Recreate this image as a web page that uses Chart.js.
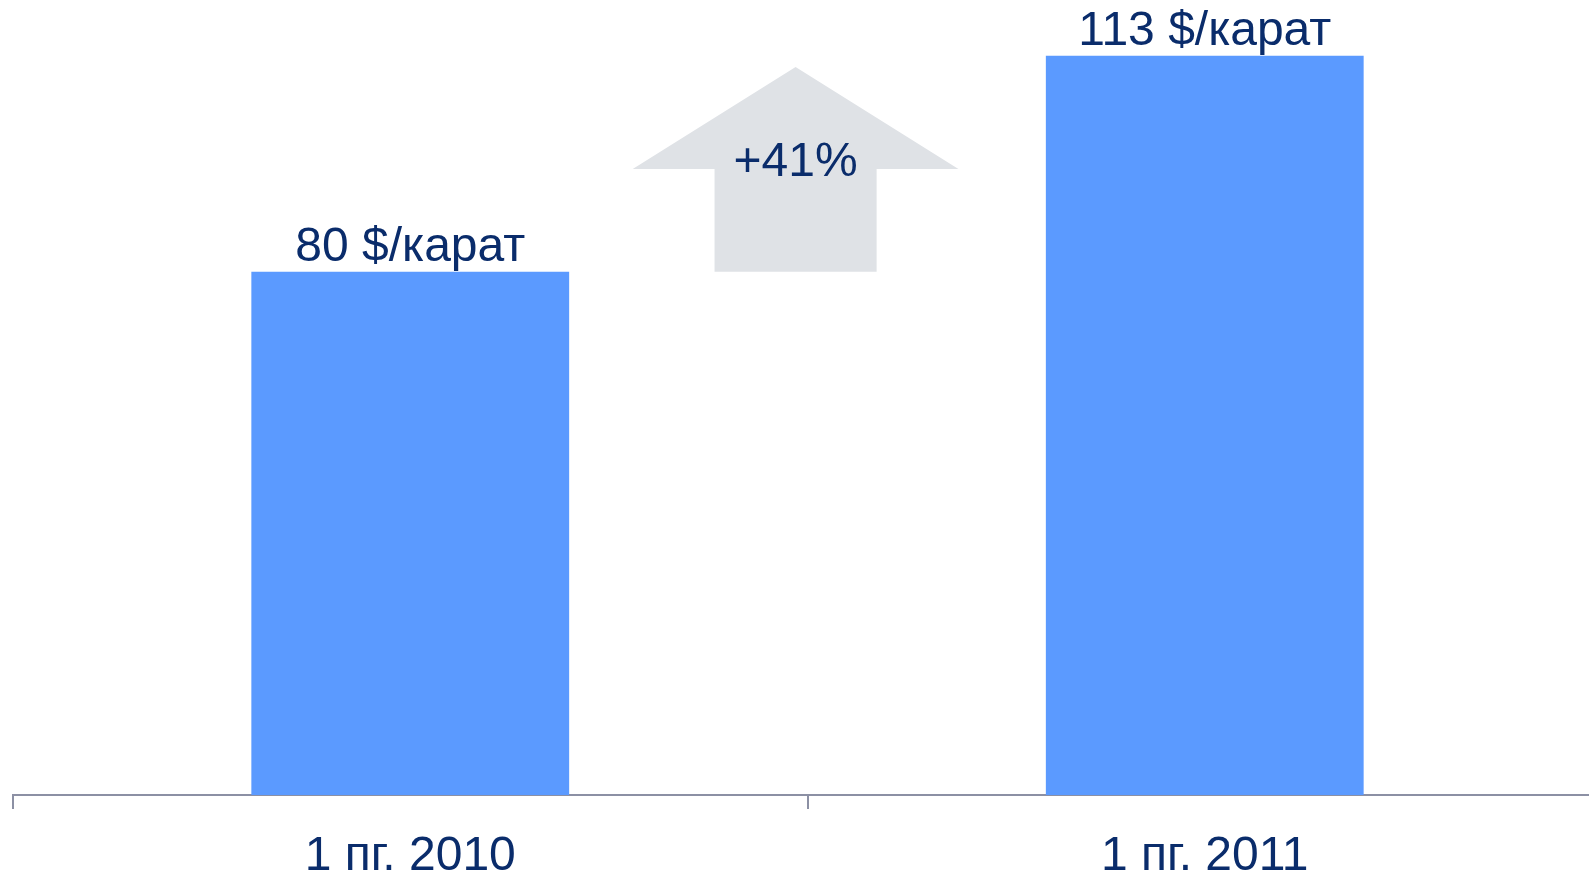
<!DOCTYPE html>
<html>
<head>
<meta charset="utf-8">
<script src="https://cdn.jsdelivr.net/npm/chart.js@4"></script>
<style>
  html, body { margin: 0; padding: 0; background: #fff; overflow: hidden; }
  #wrap { width: 1602px; height: 874px; }
</style>
</head>
<body>
<div id="wrap"><canvas id="grafico"></canvas></div>
<script>
// dados do gráfico
var categorias = ['1 пг. 2010', '1 пг. 2011'];
var valores = [80, 113];
var unidade = '$/карат';
var eixoMax = 120;

var corTexto = '#0a2c6b';
var fonte = "'Liberation Sans', Arial, sans-serif";

// seta de crescimento entre as barras
var setaPlugin = {
  id: 'seta',
  beforeDatasetsDraw: function (chart) {
    var ctx = chart.ctx;
    var x = chart.scales.x, y = chart.scales.y;
    var cx = x.getPixelForValue(0.485);
    var larg = x.getPixelForValue(1) - x.getPixelForValue(0);
    var base = y.getPixelForValue(valores[0]);
    var asa = y.getPixelForValue(95.7);
    var ponta = y.getPixelForValue(111.3);
    var meioHaste = larg * 0.102, meioAsa = larg * 0.205;
    ctx.save();
    ctx.fillStyle = '#dfe2e6';
    ctx.beginPath();
    ctx.moveTo(cx, ponta);
    ctx.lineTo(cx + meioAsa, asa);
    ctx.lineTo(cx + meioHaste, asa);
    ctx.lineTo(cx + meioHaste, base);
    ctx.lineTo(cx - meioHaste, base);
    ctx.lineTo(cx - meioHaste, asa);
    ctx.lineTo(cx - meioAsa, asa);
    ctx.closePath();
    ctx.fill();
    var cresc = Math.round((valores[1] / valores[0] - 1) * 100);
    ctx.fillStyle = corTexto;
    ctx.font = '48px ' + fonte;
    ctx.textAlign = 'center';
    ctx.textBaseline = 'alphabetic';
    ctx.fillText('+' + cresc + '%', cx, asa + 7);
    ctx.restore();
  },
  afterDatasetsDraw: function (chart) {
    var ctx = chart.ctx;
    var meta = chart.getDatasetMeta(0);
    ctx.save();
    ctx.fillStyle = corTexto;
    ctx.font = '48px ' + fonte;
    ctx.textAlign = 'center';
    ctx.textBaseline = 'alphabetic';
    meta.data.forEach(function (barra, i) {
      ctx.fillText(valores[i] + ' ' + unidade, barra.x, barra.y - 11);
    });
    ctx.restore();
  }
};

var ctx = document.getElementById('grafico').getContext('2d');
var myChart = new Chart(ctx, {
  type: 'bar',
  data: {
    labels: categorias,
    datasets: [
      {
        data: valores,
        backgroundColor: '#5b9aff',
        borderWidth: 0,
        categoryPercentage: 0.4,
        barPercentage: 1.0,
      },
    ],
  },
  options: {
    responsive: true,
    maintainAspectRatio: false,
    animation: false,
    layout: { padding: { top: 10, left: 13, right: 0, bottom: 0 } },
    plugins: { legend: { display: false }, tooltip: { enabled: false } },
    scales: {
      x: {
        offset: true,
        grid: {
          offset: true,
          drawOnChartArea: false,
          drawTicks: true,
          tickLength: 14,
          color: '#8c90a4',
          lineWidth: 2,
        },
        border: { display: true, color: '#8c90a4', width: 2 },
        ticks: {
          color: corTexto,
          font: { size: 48, family: fonte },
          padding: 19,
          maxRotation: 0,
        },
        afterFit: function (eixo) { eixo.height = 79; },
      },
      y: {
        display: false,
        min: 0,
        max: eixoMax,
      },
    },
  },
  plugins: [setaPlugin],
});
</script>
</body>
</html>
